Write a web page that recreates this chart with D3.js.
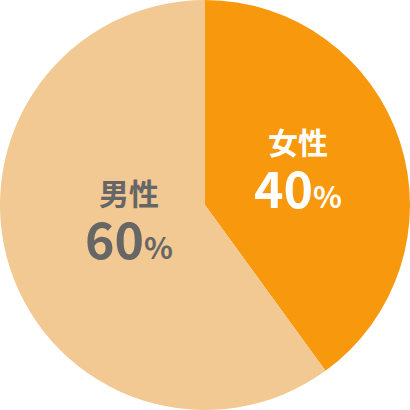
<!DOCTYPE html>
<html>
<head>
<meta charset="utf-8">
<script src="https://d3js.org/d3.v7.min.js"></script>
<style>
    html, body { margin: 0; padding: 0; background: #fff; }
    svg { display: block; }
</style>
</head>
<body>
<svg id="chart" width="410" height="410"></svg>
<script>
const labels = ["女性", "男性"];
const values = [40, 60];
const colors = ["#F7980D", "#F2C893"];
const text_colors = ["#ffffff", "#666666"];

(function (d3) {
    'use strict';

    const svg = d3.select("#chart");
    const width = 410, height = 410;
    const radius = 205;

    const g = svg.append("g")
        .attr("transform", "translate(" + width / 2 + "," + height / 2 + ")");

    const pie = d3.pie().sort(null).value(d => d);
    const arcs = pie(values);

    const arc = d3.arc().innerRadius(0).outerRadius(radius);

    // label layout: distance from centre and a small turn (radians)
    const label_dist = [99, 78];
    const label_turn = [-0.035, 0.09];

    function label_pos(d, i) {
        const a = (d.startAngle + d.endAngle) / 2 + label_turn[i];
        return [Math.sin(a) * label_dist[i], -Math.cos(a) * label_dist[i]];
    }

    g.selectAll("path")
        .data(arcs)
        .enter()
        .append("path")
        .attr("d", arc)
        .style("fill", (d, i) => colors[i]);

    const label = g.selectAll(".label")
        .data(arcs)
        .enter()
        .append("g")
        .attr("class", "label")
        .attr("transform", (d, i) => "translate(" + label_pos(d, i) + ")")
        .style("font-family", "'Noto Sans CJK JP', 'Noto Sans', sans-serif")
        .style("font-weight", "bold")
        .style("fill", (d, i) => text_colors[i]);

    label.append("text")
        .attr("text-anchor", "middle")
        .attr("y", -17)
        .style("font-size", "30px")
        .text((d, i) => labels[i]);

    const pct = label.append("text")
        .attr("text-anchor", "middle")
        .attr("y", 37);

    pct.append("tspan")
        .style("font-size", "50px")
        .text(d => d.data);

    pct.append("tspan")
        .style("font-size", "30px")
        .text("%");
}(d3));
</script>
</body>
</html>
